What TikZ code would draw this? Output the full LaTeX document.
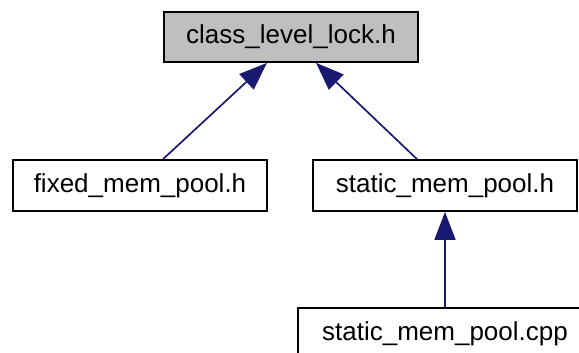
\documentclass[tikz,border=0pt]{standalone}
\usepackage{fontspec}
\setmainfont{Liberation Sans}
\usetikzlibrary{arrows.meta}
\definecolor{edgeblue}{HTML}{191970}

\begin{document}
\begin{tikzpicture}[
    x=1pt, y=-1pt,
    font=\fontsize{26}{31}\selectfont,
    file/.style={
        rectangle,
        draw=black,
        line width=1.7pt,
        fill=white,
        inner sep=0pt,
        minimum height=51pt
    },
    current/.style={file, fill=black!25},
    dep/.style={{Triangle[length=28pt,width=21pt]}-, line width=1.7pt, draw=edgeblue, fill=edgeblue}
]

\useasboundingbox (0,0) rectangle (579,353);

% =========================================================
% Files
% =========================================================
\node[current, minimum width=254pt, minimum height=50pt] (lock) at (291,37) {class\_level\_lock.h};
\node[file, minimum width=254pt] (fixed) at (140,185.5) {fixed\_mem\_pool.h};
\node[file, minimum width=264pt] (static) at (445,185.5) {static\_mem\_pool.h};
\node[file, minimum width=294pt] (staticcpp) at (445,333.5) {static\_mem\_pool.cpp};

% =========================================================
% Include dependencies
% =========================================================
\draw[dep] ([xshift=-24pt]lock.south) -- ([xshift=23pt]fixed.north);
\draw[dep] ([xshift=25pt]lock.south) -- ([xshift=-28pt]static.north);
\draw[dep] (static.south) -- (staticcpp.north);

\end{tikzpicture}
\end{document}
